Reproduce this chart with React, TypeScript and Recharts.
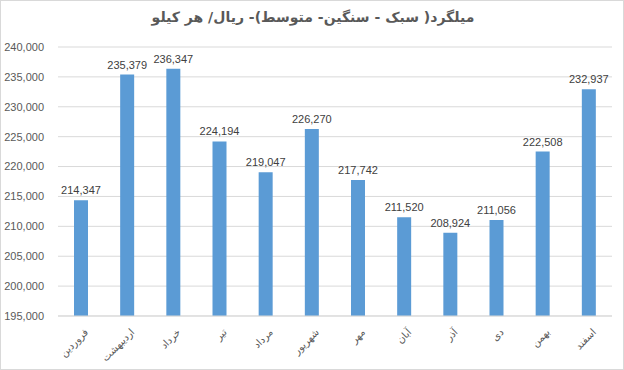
import React from "react";
import { BarChart, Bar, XAxis, YAxis, CartesianGrid, LabelList } from "recharts";

const months = ["فروردین", "اردیبهشت", "خرداد", "تیر", "مرداد", "شهریور", "مهر", "آبان", "آذر", "دی", "بهمن", "اسفند"];
const prices = [214347, 235379, 236347, 224194, 219047, 226270, 217742, 211520, 208924, 211056, 222508, 232937];
const yTicks = [195000, 200000, 205000, 210000, 215000, 220000, 225000, 230000, 235000, 240000];
const title = "میلگرد( سبک - سنگین- متوسط)- ریال/ هر کیلو";

const data = months.map((m, i) => ({ month: m, price: prices[i] }));

const fmt = (v: number) => v.toLocaleString("en-US");

const XTick = (props: any) => {
  const { x, y, payload } = props;
  return (
    <g transform={`translate(${x + 5},${y + 6})`}>
      <text
        x={0}
        y={0}
        dy={4}
        textAnchor="end"
        transform="rotate(-45)"
        fontSize={10}
        fill="#595959"
        fontFamily="DejaVu Sans, sans-serif"
      >
        {payload.value}
      </text>
    </g>
  );
};

export default function App() {
  return (
    <div style={{ position: "relative", width: 624, height: 370, boxSizing: "border-box", border: "1px solid #d9d9d9", background: "#fff" }}>
      <style>{`body{margin:0}`}</style>
      <div
        dir="rtl"
        style={{
          position: "absolute",
          top: 8,
          left: 0,
          width: 624,
          textAlign: "center",
          fontFamily: "DejaVu Sans, sans-serif",
          fontWeight: "bold",
          fontSize: 14,
          color: "#595959",
        }}
      >
        {title}
      </div>
      <div style={{ position: "absolute", top: -1, left: -1 }}>
        <BarChart width={624} height={370} data={data} margin={{ top: 47, right: 12, left: 0, bottom: 0 }}>
          <CartesianGrid vertical={false} stroke="#d9d9d9" />
          <XAxis
            dataKey="month"
            height={54}
            tick={<XTick />}
            tickLine={false}
            axisLine={{ stroke: "#d9d9d9" }}
            interval={0}
          />
          <YAxis
            width={58}
            domain={[195000, 240000]}
            ticks={yTicks}
            tickFormatter={fmt}
            tickLine={false}
            axisLine={false}
            tick={{ fontSize: 11, fill: "#595959", fontFamily: "Liberation Sans, Arial, sans-serif" }}
            tickMargin={8}
            allowDataOverflow
          />
          <Bar dataKey="price" fill="#5B9BD5" barSize={14} isAnimationActive={false}>
            <LabelList
              dataKey="price"
              position="top"
              offset={6}
              formatter={(v: any) => fmt(Number(v))}
              style={{ fontSize: 11, fill: "#404040", fontFamily: "Liberation Sans, Arial, sans-serif" }}
            />
          </Bar>
        </BarChart>
      </div>
    </div>
  );
}
